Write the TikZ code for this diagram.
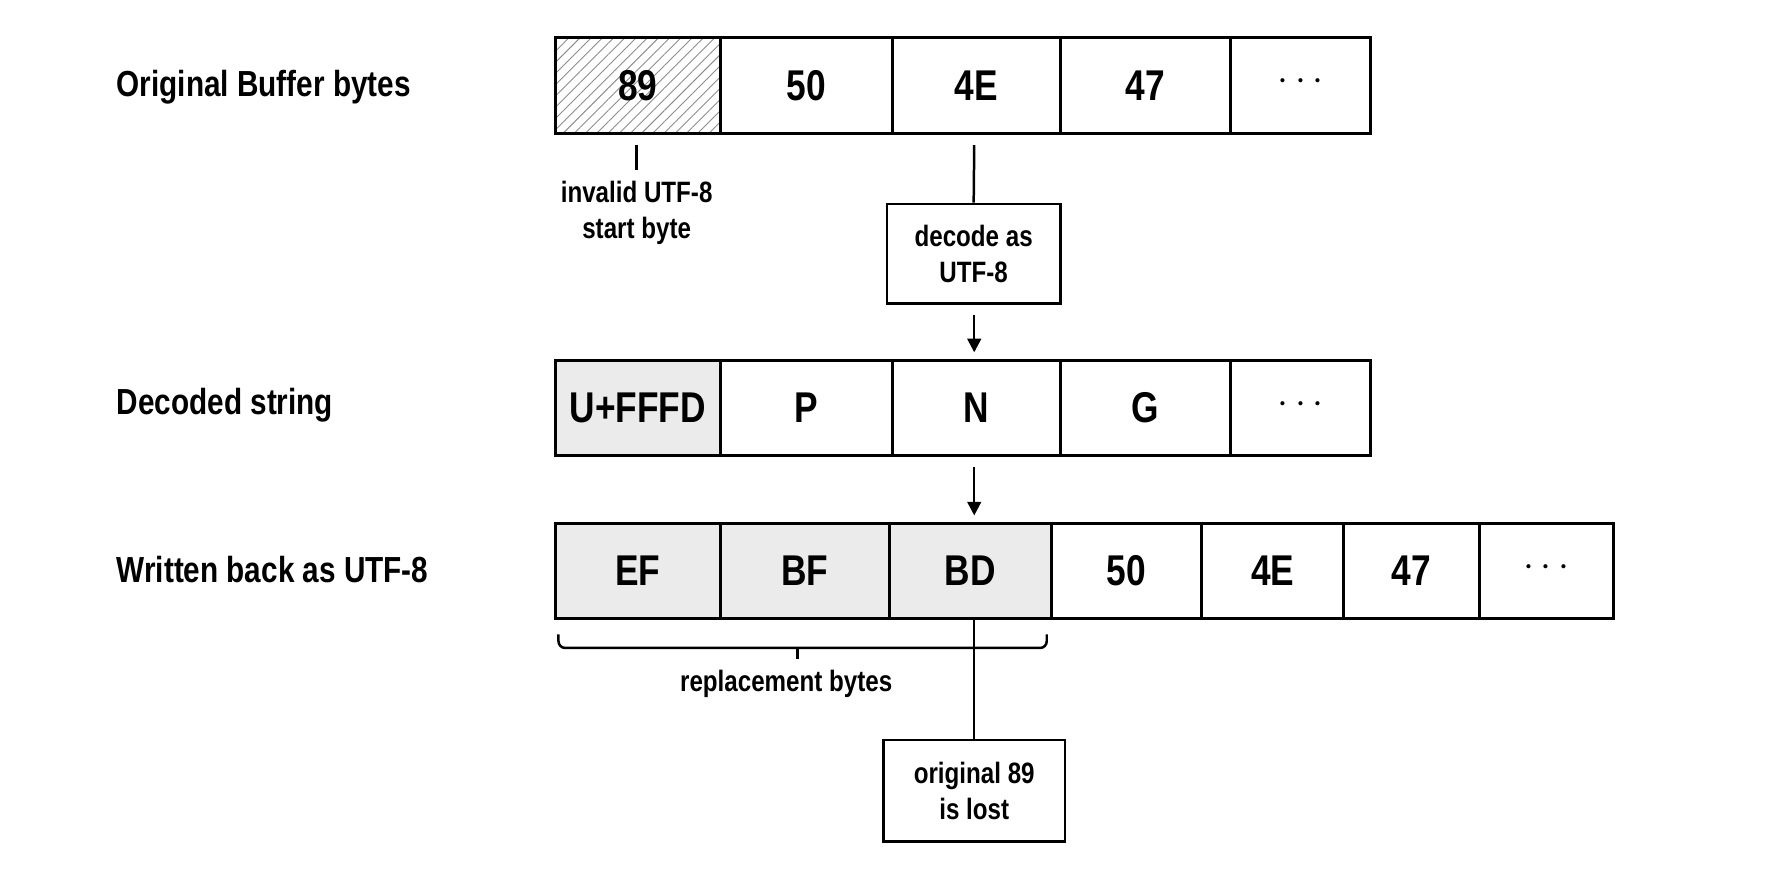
\documentclass[tikz,border=0pt]{standalone}
\usepackage{fontspec}
\setmainfont{Liberation Sans}[FakeStretch=0.82]
\usetikzlibrary{patterns.meta,arrows.meta}
\newcommand\mycell[7]{\node[cell,#7,minimum width={(#3-#2)*0.5pt},minimum height={(#5-#4)*0.5pt}] (#1) at ({(#2+#3)/2},{(#4+#5)/2}) {#6};}
\tikzset{
 cell/.style={draw,line width=1.3pt,inner sep=0pt,font=\fontsize{19}{22}\selectfont\bfseries},
 gry/.style={fill=black!8},
 hat/.style={pattern={Lines[angle=45,distance=3.5pt,line width=0.4pt]},pattern color=black!45},
 plain/.style={},
 lab/.style={anchor=west,font=\fontsize{16}{19}\selectfont\bfseries},
 small/.style={align=center,font=\fontsize{13}{16}\selectfont\bfseries},
 box/.style={draw,line width=1.1pt,align=center,inner sep=0pt,font=\fontsize{13}{16}\selectfont\bfseries},
 ln/.style={line width=1.1pt},
 arr/.style={line width=1.1pt,-{Triangle[length=6pt,width=6pt]}}
}
\begin{document}
\begin{tikzpicture}[x=0.5pt,y=-0.5pt]
\useasboundingbox (0,0) rectangle (1566,783);
\node[lab] (l1) at (96,77) {Original Buffer bytes};
\node[lab] (l2) at (96,358) {Decoded string};
\node[lab] (l3) at (96,503) {Written back as UTF-8};
\mycell{a1}{490}{636}{33}{118}{89}{hat}
\mycell{a2}{636}{788}{33}{118}{50}{plain}
\mycell{a3}{788}{936}{33}{118}{4E}{plain}
\mycell{a4}{936}{1086}{33}{118}{47}{plain}
\mycell{a5}{1086}{1210}{33}{118}{\raisebox{0.3ex}{$\cdots$}}{plain}
\mycell{b1}{490}{636}{318}{402}{U+FFFD}{gry}
\mycell{b2}{636}{788}{318}{402}{P}{plain}
\mycell{b3}{788}{936}{318}{402}{N}{plain}
\mycell{b4}{936}{1086}{318}{402}{G}{plain}
\mycell{b5}{1086}{1210}{318}{402}{\raisebox{0.3ex}{$\cdots$}}{plain}
\mycell{c1}{490}{636}{462}{546}{EF}{gry}
\mycell{c2}{636}{785}{462}{546}{BF}{gry}
\mycell{c3}{785}{928}{462}{546}{BD}{gry}
\mycell{c4}{928}{1061}{462}{546}{50}{plain}
\mycell{c5}{1061}{1186}{462}{546}{4E}{plain}
\mycell{c6}{1186}{1306}{462}{546}{47}{plain}
\mycell{c7}{1306}{1424}{462}{546}{\raisebox{0.3ex}{$\cdots$}}{plain}
\coordinate (t1) at (562,128); \coordinate (t2) at (562,150);
\draw[ln] (t1)--(t2);
\node[small] (inv) at (562,188) {invalid UTF-8\\start byte};
\node[box,minimum width={153*0.5pt},minimum height={88*0.5pt}] (dec) at (859.5,224) {decode as\\UTF-8};
\coordinate (d0) at (860,128);
\draw[ln] (d0)--(dec.north);
\coordinate (d1) at (860,278); \coordinate (d2) at (860,311);
\draw[arr] (d1)--(d2);
\coordinate (e1) at (860,412); \coordinate (e2) at (860,455);
\draw[arr] (e1)--(e2);
\coordinate (bl) at (493,560); \coordinate (br) at (924,560);
\draw[ln,rounded corners=3pt] (bl)--(493,572)--(924,572)--(br);
\coordinate (bm) at (704,582);
\draw[ln] (704,572)--(bm);
\node[small] (rep) at (694,604) {replacement bytes};
\node[box,minimum width={160*0.5pt},minimum height={90*0.5pt}] (lost) at (860,698) {original 89\\is lost};
\coordinate (f0) at (860,546);
\draw[ln] (f0)--(lost.north);
\end{tikzpicture}
\end{document}
